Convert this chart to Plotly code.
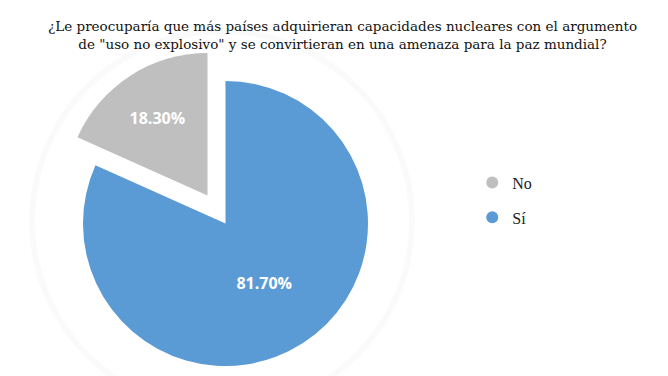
import plotly.graph_objects as go

labels = ["No", "Sí"]
values = [18.3, 81.7]
colors = ["#BFBFBF", "#5B9BD5"]
title_text = ("¿Le preocuparía que más países adquirieran capacidades nucleares con el argumento<br>"
              "de \"uso no explosivo\" y se convirtieran en una amenaza para la paz mundial?")

W, H = 668, 376
DX, DY = -8, -7

def dom(x0, x1, ytop, ybot):
    x0, x1, ytop, ybot = x0 + DX, x1 + DX, ytop + DY, ybot + DY
    return dict(x=[x0 / W, x1 / W], y=[(H - ybot) / H, (H - ytop) / H])

# drawing order: "Sí" first (clockwise from 12 o'clock), then "No" ending at 12 o'clock
order = [1, 0]
p_labels = [labels[i] for i in order]
p_values = [values[i] for i in order]

fig = go.Figure()

label_font = dict(family="Open Sans, Noto Sans, sans-serif", size=16, color="white", weight="bold")

# Blue slice (not pulled)
fig.add_trace(go.Pie(
    labels=p_labels, values=p_values, sort=False, direction="clockwise", rotation=0,
    marker=dict(colors=[colors[1], "rgba(0,0,0,0)"], line=dict(width=0)),
    texttemplate=["%{value:.2f}%", ""], textposition="inside", insidetextorientation="horizontal",
    textfont=label_font, showlegend=False, hoverinfo="label+value",
    domain=dom(83, 368, 80, 365),
))

# Gray slice (pulled out)
fig.add_trace(go.Pie(
    labels=p_labels, values=p_values, sort=False, direction="clockwise", rotation=0,
    marker=dict(colors=["rgba(0,0,0,0)", colors[0]], line=dict(width=0)),
    texttemplate=["", "%{value:.2f}%"], textposition="inside", insidetextorientation="horizontal",
    textfont=label_font, showlegend=False, hoverinfo="label+value",
    domain=dom(65, 350, 52, 337),
))

# Legend entries (circle markers)
for lab, col in zip(labels, colors):
    fig.add_trace(go.Scatter(
        x=[None], y=[None], mode="markers", name=lab,
        marker=dict(color=col, size=15, symbol="circle"),
        legendgroup=lab, showlegend=True,
    ))

fig.update_layout(
    width=W, height=H,
    margin=dict(l=0, r=0, t=0, b=0),
    paper_bgcolor="white", plot_bgcolor="white",
    xaxis=dict(visible=False), yaxis=dict(visible=False),
    legend=dict(x=0.695, y=0.489, xanchor="left", yanchor="middle",
                font=dict(family="Liberation Serif, DejaVu Serif, serif", size=16, color="#222222"),
                tracegroupgap=11, itemsizing="constant"),
    annotations=[dict(text=title_text, xref="paper", yref="paper", x=0.5, y=1 - 8 / H,
                      xanchor="center", yanchor="top", showarrow=False, align="center",
                      font=dict(family="DejaVu Serif, serif", size=13.5, color="#111111"))],
    shapes=[dict(type="circle", xref="paper", yref="paper", layer="below",
                 x0=(32 + DX) / W, x1=(412 + DX) / W, y0=(H - 410 - DY) / H, y1=(H - 30 - DY) / H,
                 line=dict(color="rgba(0,0,0,0.02)", width=6))],
)

fig.write_html("out.html")
